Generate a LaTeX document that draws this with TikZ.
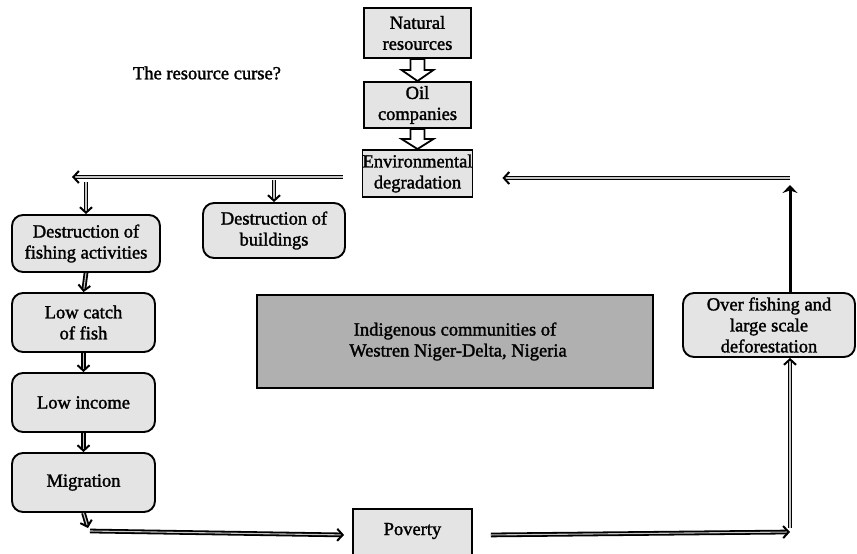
\documentclass[tikz,border=0pt]{standalone}
\usepackage{fontspec}
\setmainfont{Liberation Serif}[BoldFont=Liberation Serif,BoldFeatures={FakeBold=1.6}]
\usetikzlibrary{arrows.meta,calc}
\definecolor{boxfill}{HTML}{E4E4E4}
\definecolor{midgray}{HTML}{B0B0B0}
\begin{document}
\begin{tikzpicture}[x=1pt,y=-1pt,
  txt/.style={font=\fontsize{18.5}{21}\selectfont\bfseries},
  sqbox/.style={txt,draw,line width=1.9pt,fill=boxfill,align=center,inner sep=0pt},
  rbox/.style={sqbox,rounded corners=11pt},
  dbl/.style={draw,line width=1.8pt,double=gray!45,double distance=1.1pt},
  dtip/.style={-{Straight Barb[length=5.5pt,width=12pt,line width=2pt]}},
  blockarrow/.style={draw,line width=1.8pt,fill=white,line join=miter}
]
\useasboundingbox (0,0) rectangle (857,554);
\clip (0,0) rectangle (857,554);

% nodes
\node[sqbox,minimum width=107pt,minimum height=50pt] (nat) at (417.5,33) {Natural\\resources};
\node[sqbox,minimum width=107pt,minimum height=46pt] (oil) at (417.5,105) {Oil\\companies};
\node[sqbox,minimum width=107pt,minimum height=47pt] (env) at (417.5,173.5) {Environmental\\degradation};
\node[txt] (curse) at (207,73) {The resource curse?};

\node[rbox,minimum width=142pt,minimum height=55pt] (bld) at (274,230.5) {Destruction of\\buildings};
\node[rbox,minimum width=148pt,minimum height=57pt] (dfa) at (86,243.5) {Destruction of\\fishing activities};
\node[rbox,minimum width=143pt,minimum height=59pt] (lcf) at (83.5,322.5) {Low catch\\of fish};
\node[rbox,minimum width=143pt,minimum height=59pt] (lin) at (83.5,402.5) {Low income};
\node[rbox,minimum width=143pt,minimum height=59pt] (mig) at (83.5,482.5) {Migration};
\node[sqbox,minimum width=119pt,minimum height=52pt,anchor=north] (pov) at (412.5,508) {};
\node[txt] (povt) at (412.5,531) {Poverty};
\node[rbox,minimum width=172pt,minimum height=64pt] (ofd) at (769,325) {Over fishing and\\large scale\\deforestation};
\node[sqbox,fill=midgray,minimum width=396pt,minimum height=93pt] (ind) at (455,341.5) {Indigenous communities of\\\hspace*{6pt}Westren Niger-Delta, Nigeria};

% block arrows
\path[blockarrow] ($(nat.south)+(-7,0)$) -- ($(nat.south)+(7,0)$) -- ($(nat.south)+(7,11)$) -- ($(nat.south)+(16,11)$)
  -- (oil.north) -- ($(nat.south)+(-16,11)$) -- ($(nat.south)+(-7,11)$) -- cycle;
\path[blockarrow] ($(oil.south)+(-7,0)$) -- ($(oil.south)+(7,0)$) -- ($(oil.south)+(7,10)$) -- ($(oil.south)+(16,10)$)
  -- (env.north) -- ($(oil.south)+(-16,10)$) -- ($(oil.south)+(-7,10)$) -- cycle;

% coordinates
\coordinate (lstart) at ($(env.west)+(-19,3.5)$);
\coordinate (lend) at (72,177);
\coordinate (rstart) at (790,178);
\coordinate (rend) at ($(env.east)+(29,4.5)$);
\coordinate (mbot) at (88,528);
\coordinate (mcorner) at (90,531);
\coordinate (bcorner) at (790,532);

% left distribution
\draw[dbl,dtip] (lstart) -- (lend);
\draw[dbl,dtip] ($(dfa.north |- lend)+(0,5)$) -- (dfa.north);
\draw[dbl,dtip] ($(bld.north |- lend)+(0,3)$) -- (bld.north);

% left column
\draw[dbl,dtip] (dfa.south) -- (lcf.north);
\draw[dbl,dtip] (lcf.south) -- (lin.north);
\draw[dbl,dtip] (lin.south) -- (mig.north);
\draw[dbl,dtip] (mig.south) -- (mbot);
\draw[dbl,dtip] (mcorner) -- ($(pov.west)+(-8,0)$ |- mcorner);

% right loop
\draw[dbl,dtip] ($(pov.east)+(18,0)$ |- bcorner) -- (bcorner);
\draw[dbl,dtip] (bcorner |- 0,528) -- (ofd.south -| bcorner);
\draw[line width=3pt,-{Stealth[length=8pt,width=15pt]}] (ofd.north -| rstart) -- ($(rstart)+(0,7)$);
\draw[dbl,dtip] (rstart) -- (rend);
\end{tikzpicture}
\end{document}
